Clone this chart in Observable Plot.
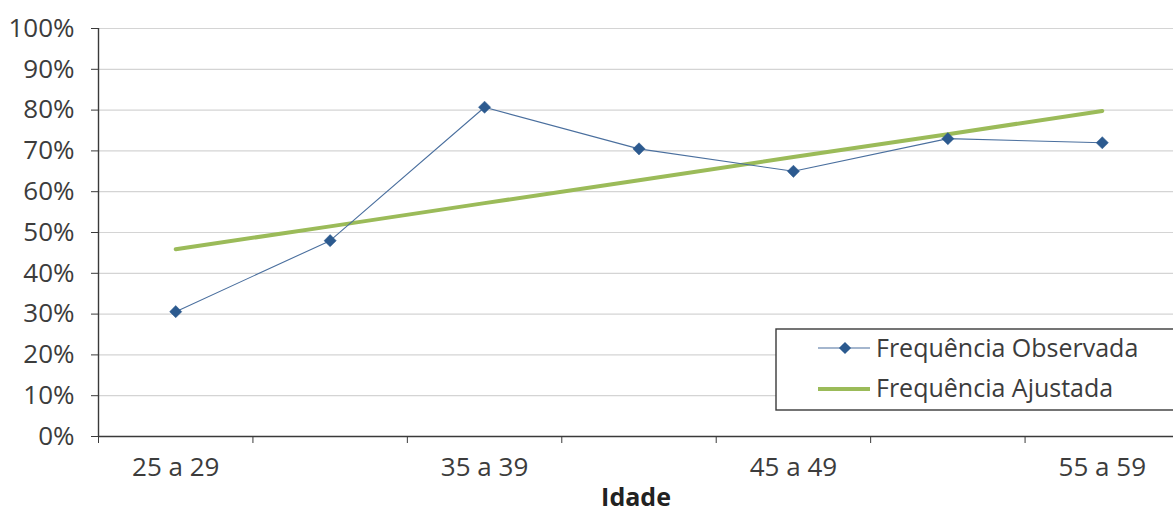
<!DOCTYPE html>
<html><head><meta charset="utf-8">
<script src="https://cdn.jsdelivr.net/npm/d3@7"></script>
<script src="https://cdn.jsdelivr.net/npm/@observablehq/plot@0.6"></script>
<style>html,body{margin:0;padding:0;background:#fff;overflow:hidden} svg{display:block}</style>
</head><body><div id="chart"></div>
<script>
const categories = ["25 a 29","30 a 34","35 a 39","40 a 44","45 a 49","50 a 54","55 a 59"];
const labeledCategories = ["25 a 29","35 a 39","45 a 49","55 a 59"];
const observada = [0.306, 0.48, 0.807, 0.705, 0.65, 0.73, 0.72];
const ajustada = [0.459, 0.515, 0.572, 0.628, 0.685, 0.741, 0.798];
const yTicks = [0, 0.1, 0.2, 0.3, 0.4, 0.5, 0.6, 0.7, 0.8, 0.9, 1.0];
const seriesNames = ["Frequência Observada", "Frequência Ajustada"];
const xTitle = "Idade";

const blueLine = "#4a6f9e", blueDot = "#2c5a8f", green = "#9bbb59", textCol = "#3c3c3c", axisCol = "#3a3a3a";

const obsData = categories.map((c, i) => ({pos: i + 1, cat: c, value: observada[i]}));
const fitData = categories.map((c, i) => ({pos: i + 1, cat: c, value: ajustada[i]}));
const boundaries = categories.map((c, i) => i + 0.5).concat([categories.length + 0.5]);
const labelPos = labeledCategories.map(c => categories.indexOf(c) + 1);

const chart = Plot.plot({
  width: 1173, height: 513,
  marginLeft: 98, marginRight: 0, marginTop: 28, marginBottom: 77,
  style: {fontFamily: "'Open Sans', sans-serif", fontSize: "26px", color: textCol, background: "#fff"},
  x: {type: "linear", domain: [0.5, categories.length + 0.5], range: [98, 1179]},
  y: {domain: [0, 1]},
  marks: [
    Plot.gridY(yTicks, {stroke: "#d4d4d4", strokeOpacity: 1, strokeWidth: 1.2}),
    Plot.axisY({ticks: yTicks, tickSize: 7, tickPadding: 17, tickFormat: d3.format(".0%"), stroke: axisCol, label: null, fill: textCol}),
    Plot.axisX({ticks: boundaries, tickSize: 7, tickFormat: () => "", stroke: axisCol, label: null}),
    Plot.axisX({ticks: labelPos, tickSize: 0, tickPadding: 21, tickFormat: p => categories[p - 1], label: null, fill: textCol}),
    Plot.ruleY([0], {stroke: axisCol, strokeWidth: 1.4}),
    Plot.ruleX([0.5], {stroke: axisCol, strokeWidth: 1.4}),
    Plot.line(fitData, {x: "pos", y: "value", stroke: green, strokeWidth: 4}),
    Plot.line(obsData, {x: "pos", y: "value", stroke: blueLine, strokeWidth: 1.1}),
    Plot.dot(obsData, {x: "pos", y: "value", symbol: "diamond2", r: 5.5, fill: blueDot, stroke: blueDot, strokeWidth: 0.5}),
    Plot.text([xTitle], {frameAnchor: "bottom", dy: 52, lineAnchor: "top", fontWeight: "bold", fontSize: 25, fill: "#222"})
  ]
});
document.getElementById("chart").appendChild(chart);

// legend (inside plot area, as in the original)
const svg = d3.select(chart);
const lg = svg.append("g").attr("font-family", "'Open Sans', sans-serif").attr("font-size", "25px").attr("text-anchor", "start");
lg.append("rect").attr("x", 776).attr("y", 329).attr("width", 410).attr("height", 81)
  .attr("fill", "#fff").attr("stroke", axisCol).attr("stroke-width", 1.4);
lg.append("line").attr("x1", 818).attr("x2", 870).attr("y1", 348).attr("y2", 348).attr("stroke", blueLine).attr("stroke-width", 1.1);
lg.append("path").attr("d", d3.symbol(d3.symbolDiamond2, 5.5 * 5.5 * Math.PI)()).attr("transform", "translate(845,348)").attr("fill", blueDot);
lg.append("line").attr("x1", 818).attr("x2", 870).attr("y1", 389).attr("y2", 389).attr("stroke", green).attr("stroke-width", 4);
lg.append("text").attr("x", 876).attr("y", 348).attr("dy", "0.35em").attr("fill", textCol).text(seriesNames[0]);
lg.append("text").attr("x", 876).attr("y", 388).attr("dy", "0.35em").attr("fill", textCol).text(seriesNames[1]);
</script></body></html>
